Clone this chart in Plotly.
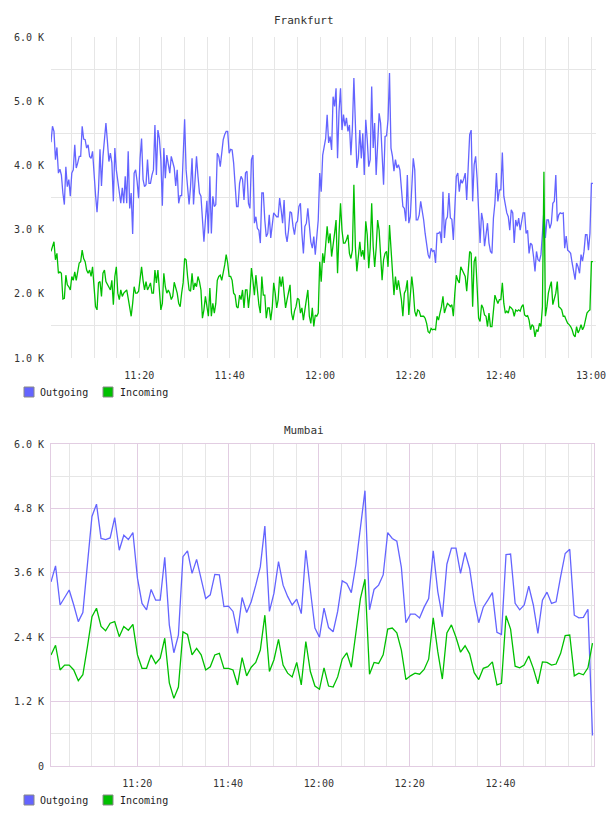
import pandas as pd
import plotly.graph_objects as go

W, H = 608, 816

# ---------------- data (values in K) ----------------
fra_out = [
    4.36,4.61,4.53,4.09,4.28,3.88,3.94,3.85,3.57,3.39,
    3.98,3.67,3.78,3.52,3.88,3.93,4.32,3.96,4.04,4.14,
    4.14,4.61,4.41,4.40,4.27,4.32,4.14,4.11,4.22,3.83,
    3.54,3.27,3.62,4.25,3.68,4.14,4.45,4.66,4.37,4.06,
    4.19,4.04,3.44,4.27,3.93,3.78,3.62,3.41,3.65,3.41,
    3.83,3.41,4.22,3.33,3.57,2.93,3.88,3.93,3.75,3.49,
    4.11,4.42,3.78,3.67,3.70,4.09,3.72,3.72,3.85,3.93,
    4.63,3.85,4.55,4.42,4.09,3.37,4.27,3.80,4.16,3.98,
    3.88,4.14,4.04,3.96,3.68,3.93,3.41,3.53,3.53,4.11,
    4.72,3.93,3.67,3.39,3.67,4.11,3.39,3.83,4.14,3.83,
    3.57,3.52,3.05,2.81,3.15,3.45,2.94,3.83,2.94,3.52,
    3.36,3.39,4.19,4.14,3.98,4.24,4.40,4.48,4.53,4.53,
    4.19,4.25,4.24,4.04,3.72,3.36,
    3.36,3.72,3.83,3.78,3.46,3.88,3.91,3.41,3.33,4.09,
    4.16,3.10,3.20,3.02,2.99,2.79,3.57,3.57,3.15,2.89,
    2.94,3.23,2.87,3.10,3.26,3.23,3.20,3.20,3.49,3.31,
    3.10,3.46,2.94,2.81,2.99,3.28,3.26,3.05,2.92,3.10,
    3.13,3.36,3.41,2.94,2.63,3.05,3.10,3.33,2.99,2.81,
    2.71,2.89,2.61,2.94,3.15,3.88,3.59,4.16,4.32,4.42,
    4.79,4.35,4.45,4.24,5.07,4.92,5.20,4.11,4.84,5.20,
    4.55,4.79,4.61,4.74,4.53,4.63,4.16,4.58,5.36,4.61,
    3.96,4.11,4.55,4.11,4.50,3.85,4.71,4.40,3.98,4.09,
    5.23,4.27,4.66,3.85,4.32,4.81,4.66,4.24,3.70,4.45,
    4.46,4.71,5.44,4.27,4.14,3.91,4.09,3.96,4.01,3.93,
    3.62,3.36,3.33,3.13,3.85,3.10,3.20,3.67,4.11,3.93,
    3.15,3.15,3.23,3.44,3.31,3.15,2.94,2.74,2.61,
    2.55,2.71,2.66,2.68,2.48,2.94,2.94,2.97,2.79,3.59,
    2.87,3.15,3.20,3.57,3.18,3.16,2.84,3.36,3.83,3.88,
    3.59,3.78,3.72,3.79,3.88,3.46,3.93,4.48,4.55,3.44,
    4.01,4.14,3.80,3.36,2.79,3.26,3.13,2.74,2.92,3.10,
    2.79,2.66,2.63,3.18,3.41,3.88,3.44,3.62,3.62,4.20,
    3.52,3.36,3.26,3.20,2.99,3.31,3.26,2.79,3.15,3.05,
    3.18,2.99,3.15,3.26,3.26,2.94,2.99,2.63,2.79,2.76,
    2.58,2.35,2.66,2.53,2.51,2.61,2.94,3.31,2.87,3.15,
    3.15,3.02,3.10,3.41,3.44,3.85,3.13,3.23,3.26,3.25,
    3.26,2.71,2.90,2.68,2.66,2.63,2.48,2.32,2.22,2.48,
    2.42,2.32,2.61,2.51,2.66,2.92,2.92,2.68,2.94,3.72,
    3.72,
]
fra_in = [
    2.66,2.74,2.81,2.53,2.63,2.32,2.34,2.32,1.92,1.93,
    2.29,2.14,2.11,2.06,2.27,2.21,2.34,2.21,2.37,2.48,
    2.50,2.68,2.55,2.50,2.37,2.32,2.37,2.27,2.42,2.06,
    1.80,1.75,2.17,2.19,1.96,2.32,2.37,2.19,2.14,2.11,
    2.06,2.21,1.83,2.27,2.42,2.01,1.91,2.06,1.96,2.01,
    2.04,2.06,1.93,1.78,1.65,1.85,2.11,2.01,2.01,2.04,
    2.27,2.42,2.21,2.06,2.19,2.06,2.11,2.17,2.01,2.01,
    2.37,2.17,2.37,2.01,1.75,1.85,2.32,2.11,2.01,2.06,
    2.01,1.91,1.96,2.18,2.11,2.01,1.85,1.80,2.01,2.17,
    2.55,2.53,2.27,2.06,2.04,2.32,2.06,2.17,2.11,2.27,
    2.19,2.06,1.62,1.75,1.96,1.78,1.65,2.09,1.65,1.85,
    1.70,1.85,2.21,2.27,2.29,2.21,2.32,2.45,2.61,2.48,
    2.27,2.27,2.21,2.01,1.98,1.80,
    1.78,1.98,1.91,2.06,1.78,2.06,2.06,1.78,2.01,2.40,
    2.21,1.98,2.29,2.01,1.83,1.70,2.27,1.98,1.98,1.62,
    1.78,1.78,1.59,1.78,2.17,2.01,1.78,1.91,2.27,2.11,
    2.27,2.01,1.78,1.91,2.04,2.14,1.70,1.59,1.73,1.80,
    1.93,1.91,1.70,1.78,1.59,1.80,1.91,2.06,1.65,1.54,
    1.78,1.49,1.67,1.65,1.70,2.50,2.19,2.63,2.48,2.76,
    3.05,2.79,2.94,2.58,2.74,2.94,3.15,2.32,2.94,3.41,
    2.99,2.79,2.79,2.84,2.92,2.63,2.55,2.68,3.70,2.74,
    2.35,2.55,2.81,2.58,2.68,2.53,3.13,2.92,2.40,2.71,
    3.41,2.74,2.42,2.71,3.15,2.99,2.58,2.21,2.53,2.63,
    2.66,2.42,3.07,2.66,2.32,1.98,2.27,2.06,2.21,2.06,
    1.91,1.65,2.01,2.06,2.21,1.67,2.01,2.27,2.06,1.73,
    1.65,1.75,1.73,1.65,1.65,1.65,1.62,1.54,1.41,
    1.39,1.46,1.44,1.45,1.44,1.65,1.59,1.70,1.80,1.96,
    1.70,1.78,1.85,1.83,1.80,1.83,1.65,2.01,2.29,2.21,
    2.17,2.42,2.37,2.34,2.27,2.04,2.32,2.66,2.63,1.80,
    2.50,2.58,2.11,1.62,1.57,1.83,1.78,1.67,1.65,1.49,
    1.70,1.49,1.49,1.73,1.98,1.91,1.85,1.91,1.91,2.17,
    1.85,1.70,1.73,1.70,1.80,1.78,1.75,1.65,1.75,1.73,
    1.75,1.73,1.80,1.83,1.67,1.65,1.66,1.59,1.44,1.52,
    1.49,1.33,1.44,1.41,1.54,1.49,1.80,3.90,1.65,1.80,
    2.01,2.11,2.19,1.83,1.91,2.01,2.19,1.80,1.78,1.75,
    1.65,1.65,1.59,1.54,1.52,1.49,1.44,1.36,1.33,1.49,
    1.39,1.44,1.52,1.44,1.49,1.62,1.70,1.73,1.75,2.50,
    2.50,
]

mum_out = [
    3.43,3.73,3.00,3.14,3.28,3.00,2.69,2.86,3.71,4.65,
    4.88,4.24,4.22,4.25,4.63,4.02,4.30,4.22,4.35,3.50,
    3.03,2.91,3.29,3.09,3.09,3.89,2.63,2.11,2.44,3.90,
    4.01,3.59,3.85,3.50,3.12,3.19,3.57,3.56,2.97,2.98,
    2.88,2.47,3.14,2.86,3.06,3.37,3.71,4.47,2.88,3.22,
    3.81,3.37,3.16,3.00,3.11,2.84,4.02,3.28,2.57,2.40,
    2.94,2.58,2.50,2.88,3.45,3.40,3.23,3.75,4.46,5.13,
    2.91,3.29,3.37,3.56,4.35,4.24,4.19,3.70,2.67,2.83,
    2.83,
    2.76,2.96,3.12,4.01,3.25,2.78,3.76,4.06,4.06,3.59,
    3.98,3.68,3.09,2.67,2.96,3.09,3.23,2.49,2.45,3.94,
    3.95,3.03,2.91,3.00,3.35,3.00,2.47,3.09,3.24,3.03,
    3.06,3.53,3.96,4.04,2.81,2.76,2.77,2.92,0.57,
]
mum_in = [
    2.07,2.25,1.79,1.88,1.88,1.79,1.59,1.70,2.22,2.78,
    2.94,2.60,2.52,2.66,2.69,2.41,2.60,2.53,2.64,2.07,
    1.82,1.82,2.07,1.91,2.01,2.38,1.55,1.26,1.47,2.50,
    2.45,2.07,2.19,2.07,1.79,1.85,2.07,2.10,1.82,1.82,
    1.79,1.51,2.02,1.68,1.84,1.93,2.16,2.81,1.76,1.98,
    2.36,1.88,1.73,1.66,1.93,1.51,2.32,1.76,1.49,1.43,
    1.83,1.49,1.47,1.66,1.99,2.11,1.84,2.47,3.12,3.48,
    1.71,1.93,1.91,2.07,2.55,2.57,2.48,2.16,1.61,1.68,
    1.73,
    1.71,1.80,1.99,2.76,2.13,1.62,2.48,2.63,2.40,2.12,
    2.24,2.09,1.74,1.61,1.82,1.85,1.94,1.51,1.54,2.80,
    2.55,1.86,1.83,1.88,2.05,1.82,1.53,1.94,1.93,1.88,
    1.90,2.10,2.43,2.44,1.68,1.73,1.70,1.83,2.29,
]

series_names = ["Outgoing", "Incoming"]
series_colors = ["#6464ff", "#00c000"]

fra_y_ticks = [1, 2, 3, 4, 5, 6]
fra_y_text = ["1.0 K", "2.0 K", "3.0 K", "4.0 K", "5.0 K", "6.0 K"]
fra_y_grid = [1.5, 2.5, 3.5, 4.5, 5.5]
mum_y_ticks = [0, 1.2, 2.4, 3.6, 4.8, 6.0]
mum_y_text = ["0", "1.2 K", "2.4 K", "3.6 K", "4.8 K", "6.0 K"]
mum_y_grid = [0.6, 1.8, 3.0, 4.2, 5.4]

fra_x_ticks = ["11:20", "11:40", "12:00", "12:20", "12:40", "13:00"]
mum_x_ticks = ["11:20", "11:40", "12:00", "12:20", "12:40"]

D = "2024-01-01 "
fra_t = pd.date_range(D + "11:00:27", D + "13:00:25", periods=len(fra_out))
mum_t = pd.date_range(D + "11:01:00", D + "13:00:16", periods=len(mum_out))
five_min = pd.date_range(D + "11:05", D + "13:00", freq="5min")

GRAY = "#e6e6e6"
PURPLE = "#e2cde2"
FONT = "DejaVu Sans Mono"

def px(x):
    return x / W

def py(y):
    return 1 - y / H

fig = go.Figure()
for name, col, ys in zip(series_names, series_colors, [fra_out, fra_in]):
    fig.add_trace(go.Scatter(x=fra_t, y=ys, mode="lines", name=name,
                             line=dict(color=col, width=1.3),
                             xaxis="x", yaxis="y", showlegend=False))
for name, col, ys in zip(series_names, series_colors, [mum_out, mum_in]):
    fig.add_trace(go.Scatter(x=mum_t, y=ys, mode="lines", name=name,
                             line=dict(color=col, width=1.3),
                             xaxis="x2", yaxis="y2", showlegend=False))

tickfont = dict(family=FONT, size=10, color="#333")

fig.update_layout(
    template="none",
    width=W, height=H, autosize=False, margin=dict(l=0, r=0, t=0, b=0, pad=0),
    paper_bgcolor="white", plot_bgcolor="white",
    font=dict(family=FONT, size=10, color="#333"),
    showlegend=False,
    xaxis=dict(
        domain=[px(51), px(596)], anchor="y", automargin=False,
        range=[D + "11:00:27", D + "13:01:06"],
        tickmode="array", tickvals=[D + t for t in fra_x_ticks],
        tickformat="%H:%M", tickfont=tickfont,
        ticks="outside", ticklen=8, tickcolor="rgba(0,0,0,0)",
        showgrid=True, gridcolor=GRAY, gridwidth=1, zeroline=False, showline=False,
        minor=dict(tickmode="array", tickvals=list(five_min), showgrid=True,
                   gridcolor=GRAY, gridwidth=1),
    ),
    yaxis=dict(
        domain=[py(358), py(37)], anchor="x", automargin=False,
        range=[1, 6], tickmode="array", tickvals=fra_y_ticks, ticktext=fra_y_text,
        tickfont=tickfont, ticks="outside", ticklen=4, tickcolor="rgba(0,0,0,0)",
        showgrid=False, zeroline=False, showline=False,
        minor=dict(tickmode="array", tickvals=fra_y_grid, showgrid=True,
                   gridcolor=GRAY, gridwidth=1),
    ),
    xaxis2=dict(
        domain=[px(51), px(594)], anchor="y2", automargin=False,
        range=[D + "11:01:00", D + "13:00:36"],
        tickmode="array", tickvals=[D + t for t in mum_x_ticks],
        tickformat="%H:%M", tickfont=tickfont,
        ticks="outside", ticklen=8, tickcolor="rgba(0,0,0,0)",
        showgrid=True, gridcolor=PURPLE, gridwidth=1, zeroline=False,
        showline=True, linecolor=PURPLE, linewidth=1, mirror=True,
        minor=dict(tickmode="array", tickvals=list(five_min), showgrid=True,
                   gridcolor=GRAY, gridwidth=1),
    ),
    yaxis2=dict(
        domain=[py(766), py(444)], anchor="x2", automargin=False,
        range=[0, 6], tickmode="array", tickvals=mum_y_ticks, ticktext=mum_y_text,
        tickfont=tickfont, ticks="outside", ticklen=4, tickcolor="rgba(0,0,0,0)",
        showgrid=True, gridcolor=PURPLE, gridwidth=1, zeroline=False,
        showline=True, linecolor=PURPLE, linewidth=1, mirror=True,
        minor=dict(tickmode="array", tickvals=mum_y_grid, showgrid=True,
                   gridcolor=GRAY, gridwidth=1),
    ),
)

annotations = []
shapes = []
for title, ty, ly in [("Frankfurt", 20, 392), ("Mumbai", 430, 800)]:
    annotations.append(dict(text=title, x=0.5, y=py(ty), xref="paper", yref="paper",
                            xanchor="center", yanchor="middle", showarrow=False,
                            font=dict(family=FONT, size=11, color="#333")))
    for name, col, bx, tx in zip(series_names, series_colors, [24, 103], [38, 118]):
        shapes.append(dict(type="rect", xref="paper", yref="paper",
                           x0=px(bx), x1=px(bx + 10), y0=py(ly + 5), y1=py(ly - 5),
                           fillcolor=col, line=dict(color="#888", width=1)))
        annotations.append(dict(text=name, x=px(tx), y=py(ly), xref="paper", yref="paper",
                                xanchor="left", yanchor="middle", showarrow=False,
                                font=dict(family=FONT, size=10, color="#222")))
fig.update_layout(annotations=annotations, shapes=shapes)

fig.write_html(
    "out.html",
    config={"responsive": False},
    post_script="document.body.style.margin='0';document.body.style.overflow='hidden';",
)
